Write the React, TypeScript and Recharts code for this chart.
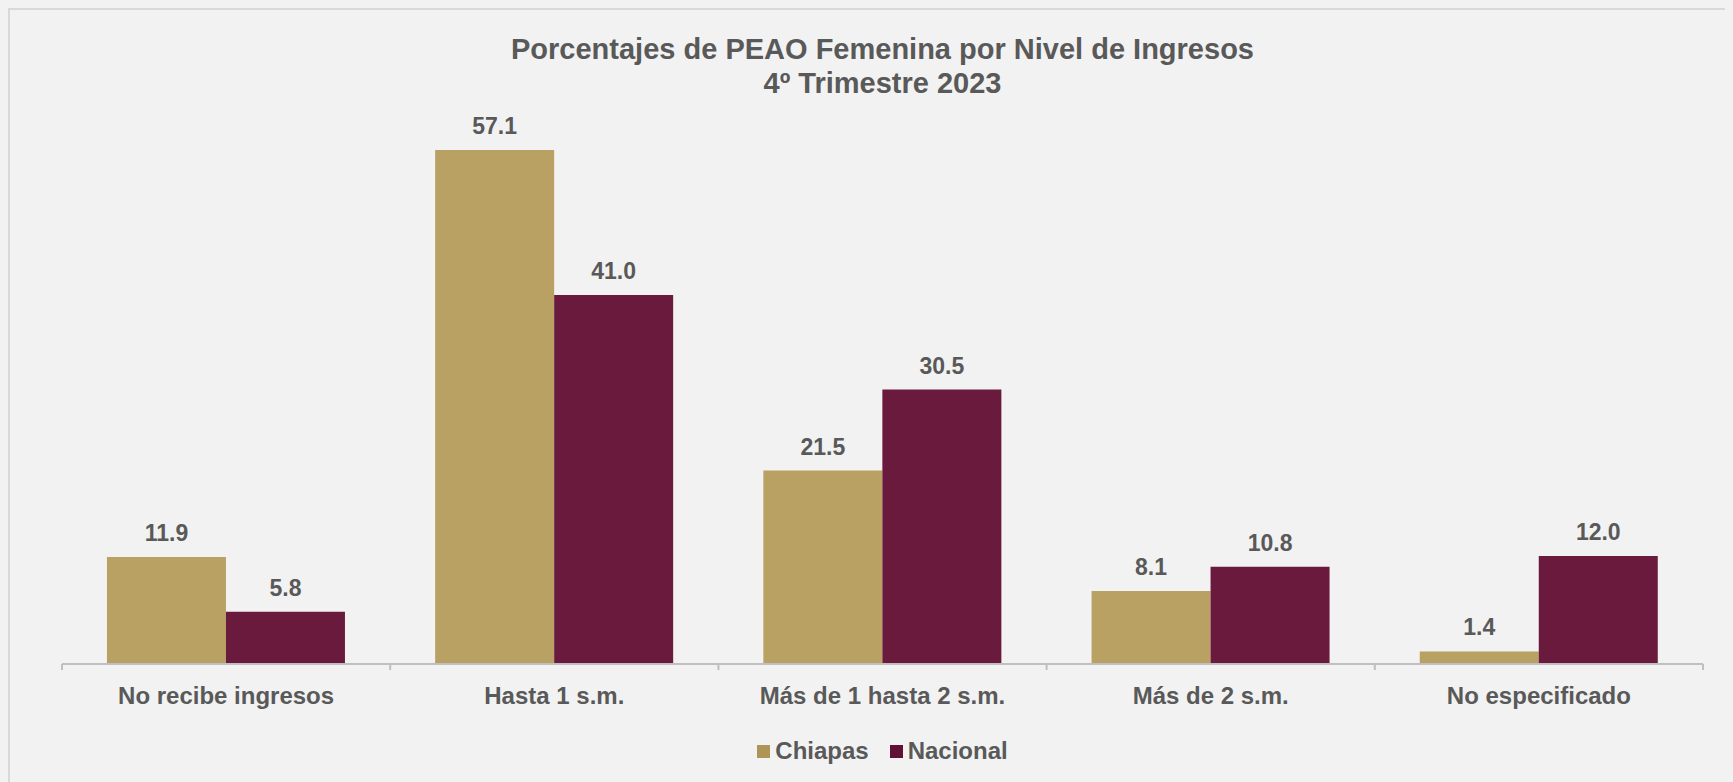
import React, { useEffect } from "react";
import { BarChart, Bar, XAxis, YAxis, LabelList, Legend } from "recharts";

// categories and values
const categories = [
  "No recibe ingresos",
  "Hasta 1 s.m.",
  "Más de 1 hasta 2 s.m.",
  "Más de 2 s.m.",
  "No especificado",
];
const chiapas = [11.9, 57.1, 21.5, 8.1, 1.4];
const nacional = [5.8, 41.0, 30.5, 10.8, 12.0];
const seriesNames = ["Chiapas", "Nacional"];
const titleLines = ["Porcentajes de PEAO Femenina por Nivel de Ingresos", "4º Trimestre 2023"];

const data = categories.map((name, i) => ({
  name,
  chiapas: chiapas[i],
  nacional: nacional[i],
}));

const FONT = '"Liberation Sans", Arial, sans-serif';
const TEXT = "#595959";
const BAR_COLORS = ["#B9A063", "#6A1A3D"];
const LEGEND_COLORS = ["#AD9557", "#611232"];
const AXIS = "#bfbfbf";

const CHART_W = 1723;
const CHART_H = 772;
const MARGIN = { top: 114, right: 30, bottom: 16, left: 52 };
const BAND = (CHART_W - MARGIN.left - MARGIN.right) / categories.length;

const CategoryTick = (props: any) => {
  const { x, y, payload, index } = props;
  const half = BAND / 2;
  return (
    <g>
      <line x1={x - half} x2={x - half} y1={y} y2={y + 6} stroke={AXIS} strokeWidth={2} />
      {index === categories.length - 1 && (
        <line x1={x + half} x2={x + half} y1={y} y2={y + 6} stroke={AXIS} strokeWidth={2} />
      )}
      <text
        x={x}
        y={y + 32}
        dy="0.35em"
        textAnchor="middle"
        fill={TEXT}
        fontSize={24}
        fontWeight="bold"
        fontFamily={FONT}
      >
        {payload.value}
      </text>
    </g>
  );
};

const renderLegend = () => (
  <div
    style={{
      display: "flex",
      justifyContent: "center",
      alignItems: "center",
      height: 30,
      gap: 21,
      fontFamily: FONT,
      fontWeight: "bold",
      fontSize: 24,
      color: TEXT,
    }}
  >
    {seriesNames.map((n, i) => (
      <div key={n} style={{ display: "flex", alignItems: "center" }}>
        <span style={{ width: 13, height: 13, background: LEGEND_COLORS[i], marginRight: 5 }} />
        <span>{n}</span>
      </div>
    ))}
  </div>
);

const fmt = (v: any) => Number(v).toFixed(1);

export default function App() {
  useEffect(() => {
    document.body.style.background = "#f2f2f2";
  }, []);

  return (
    <div
      style={{
        position: "relative",
        width: CHART_W,
        height: CHART_H,
        borderTop: "2px solid #d9d9d9",
        borderLeft: "2px solid #d9d9d9",
        background: "#f2f2f2",
      }}
    >
      <div
        style={{
          position: "absolute",
          top: 22,
          left: MARGIN.left,
          width: CHART_W - MARGIN.left - MARGIN.right,
          textAlign: "center",
          fontFamily: FONT,
          fontWeight: "bold",
          fontSize: 29,
          lineHeight: "34px",
          color: TEXT,
        }}
      >
        {titleLines.map((t) => (
          <div key={t}>{t}</div>
        ))}
      </div>
      <BarChart
        width={CHART_W}
        height={CHART_H}
        data={data}
        margin={MARGIN}
        barCategoryGap="13.7%"
        barGap={0}
      >
        <XAxis
          dataKey="name"
          interval={0}
          height={72}
          tickSize={0}
          tickMargin={0}
          tickLine={false}
          axisLine={{ stroke: AXIS, strokeWidth: 2 }}
          tick={<CategoryTick />}
        />
        <YAxis hide domain={[0, 60]} />
        <Legend verticalAlign="bottom" content={renderLegend} />
        <Bar dataKey="chiapas" name={seriesNames[0]} fill={BAR_COLORS[0]} isAnimationActive={false}>
          <LabelList
            dataKey="chiapas"
            position="top"
            offset={16}
            formatter={fmt}
            fill={TEXT}
            fontSize={23}
            fontWeight="bold"
            fontFamily={FONT}
          />
        </Bar>
        <Bar dataKey="nacional" name={seriesNames[1]} fill={BAR_COLORS[1]} isAnimationActive={false}>
          <LabelList
            dataKey="nacional"
            position="top"
            offset={16}
            formatter={fmt}
            fill={TEXT}
            fontSize={23}
            fontWeight="bold"
            fontFamily={FONT}
          />
        </Bar>
      </BarChart>
    </div>
  );
}
